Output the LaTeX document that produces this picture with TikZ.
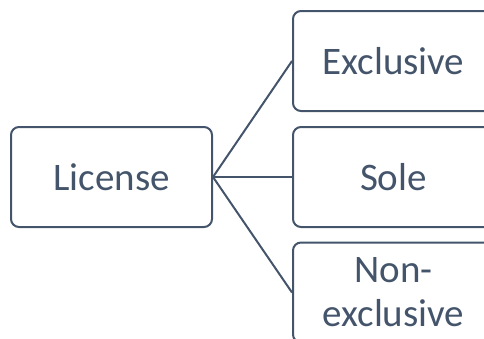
\documentclass[tikz,border=0pt]{standalone}
\usepackage{fontspec}
\setmainfont{Carlito}
\usepackage{tikz}
\usetikzlibrary{positioning}
\definecolor{slate}{HTML}{44546A}

\begin{document}
\begin{tikzpicture}[x=1pt,y=1pt,
  box/.style={draw=slate,line width=2pt,rounded corners=8pt,minimum width=201pt,minimum height=100pt,text=slate,font=\fontsize{39}{44}\selectfont,align=center,inner sep=0pt},
  link/.style={draw=slate,line width=2pt}]
%\draw[help lines](0,0)grid(484,-338);
\clip (0,0) rectangle (484,-338);
\node[box] (license) at (111.5,-177) {License};
\node[box,right=79pt of license] (sole) {Sole};
\node[box,above=14pt of sole] (excl) {Exclusive};
\node[box,below=13.5pt of sole] (nonexcl) {Non-\\exclusive};
\draw[link] (license.east)--(excl.west);
\draw[link] (license.east)--(sole.west);
\draw[link] (license.east)--(nonexcl.west);
\end{tikzpicture}
\end{document}
